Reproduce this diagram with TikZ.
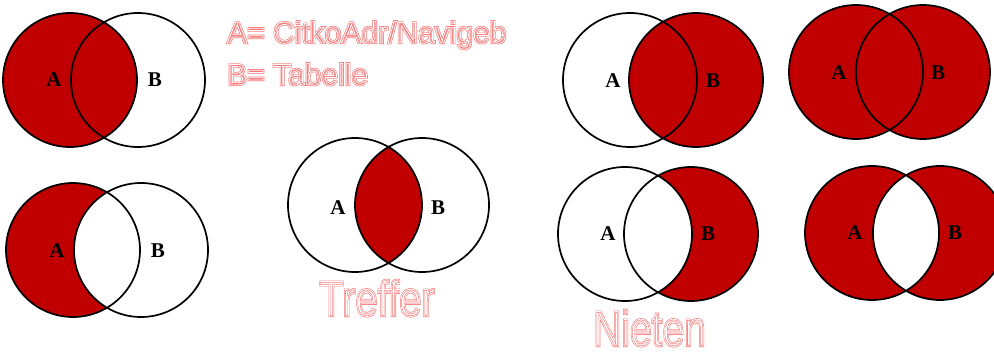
\documentclass[tikz,border=0pt]{standalone}
\usepackage{fontspec}
\setmainfont{Liberation Serif}
\newfontfamily\arialfont{Liberation Sans}
\definecolor{vennred}{RGB}{192,0,0}
\newcommand{\strokedrun}[3]{\special{pdf:code 1 Tr #2 w #3 RG}#1\special{pdf:code 0 Tr 0.4 w 0 0 0 RG}}
\newcommand{\hollowtext}[1]{\rlap{\strokedrun{#1}{2.1}{0.96 0.47 0.47}}\strokedrun{#1}{0.8}{1 1 1}}
\tikzset{
  venncircle/.style={draw=black, line width=1.7pt},
  vennfill/.style={fill=vennred},
  lbl/.style={font=\fontsize{21}{21}\selectfont\bfseries, inner sep=0pt},
  legend/.style={font=\arialfont\fontsize{30}{30}\selectfont, inner sep=0pt, anchor=base west, text depth=0pt},
  bigword/.style={font=\arialfont\fontsize{50}{50}\selectfont, inner sep=0pt, anchor=base west, text depth=0pt},
}
\begin{document}
\begin{tikzpicture}[x=1pt,y=-1pt]
\useasboundingbox (0,0) rectangle (994,351);
\def\R{67}
% Diagram 1: A
\coordinate (d1a) at (70,80); \coordinate (d1b) at (138,80);
\fill[vennfill] (d1a) circle (\R);
\draw[venncircle] (d1a) circle (\R) (d1b) circle (\R);
\node[lbl] (l1a) at (54,80) {A};
\node[lbl] (l1b) at (155,80) {B};
% Diagram 2: B
\coordinate (d2a) at (630,80); \coordinate (d2b) at (696,80);
\fill[vennfill] (d2b) circle (\R);
\draw[venncircle] (d2a) circle (\R) (d2b) circle (\R);
\node[lbl] (l2a) at (613,81) {A};
\node[lbl] (l2b) at (713,81) {B};
% Diagram 3: A union B
\coordinate (d3a) at (856,72); \coordinate (d3b) at (923,72);
\fill[vennfill] (d3a) circle (\R) (d3b) circle (\R);
\draw[venncircle] (d3a) circle (\R) (d3b) circle (\R);
\node[lbl] (l3a) at (839,73) {A};
\node[lbl] (l3b) at (938,73) {B};
% Diagram 4: A minus B
\coordinate (d4a) at (73,250); \coordinate (d4b) at (141,250);
\fill[vennfill] (d4a) circle (\R);
\fill[white] (d4b) circle (\R);
\draw[venncircle] (d4a) circle (\R) (d4b) circle (\R);
\node[lbl] (l4a) at (57,251) {A};
\node[lbl] (l4b) at (158,251) {B};
% Diagram 5: A intersect B
\coordinate (d5a) at (355,205); \coordinate (d5b) at (422,205);
\begin{scope}
\clip (d5a) circle (\R);
\fill[vennfill] (d5b) circle (\R);
\end{scope}
\draw[venncircle] (d5a) circle (\R) (d5b) circle (\R);
\node[lbl] (l5a) at (338,208) {A};
\node[lbl] (l5b) at (438,208) {B};
% Diagram 6: B minus A
\coordinate (d6a) at (625,234); \coordinate (d6b) at (691,234);
\fill[vennfill] (d6b) circle (\R);
\fill[white] (d6a) circle (\R);
\draw[venncircle] (d6a) circle (\R) (d6b) circle (\R);
\node[lbl] (l6a) at (608,234) {A};
\node[lbl] (l6b) at (708,234) {B};
% Diagram 7: symmetric difference
\coordinate (d7a) at (872,233); \coordinate (d7b) at (940,233);
\fill[vennfill, even odd rule] (d7a) circle (\R) (d7b) circle (\R);
\draw[venncircle] (d7a) circle (\R) (d7b) circle (\R);
\node[lbl] (l7a) at (855,233) {A};
\node[lbl] (l7b) at (955,233) {B};
% Texts
\node[legend] (lega) at (227,43) {\hollowtext{A= CitkoAdr/Navigeb}};
\node[legend] (legb) at (227,85) {\hollowtext{B= Tabelle}};
\node[bigword] (treffer) at (319,316) {\scalebox{0.8}[1]{\hollowtext{Treffer}}};
\node[bigword] (nieten) at (593,346) {\scalebox{0.78}[1]{\hollowtext{Nieten}}};
\end{tikzpicture}
\end{document}
